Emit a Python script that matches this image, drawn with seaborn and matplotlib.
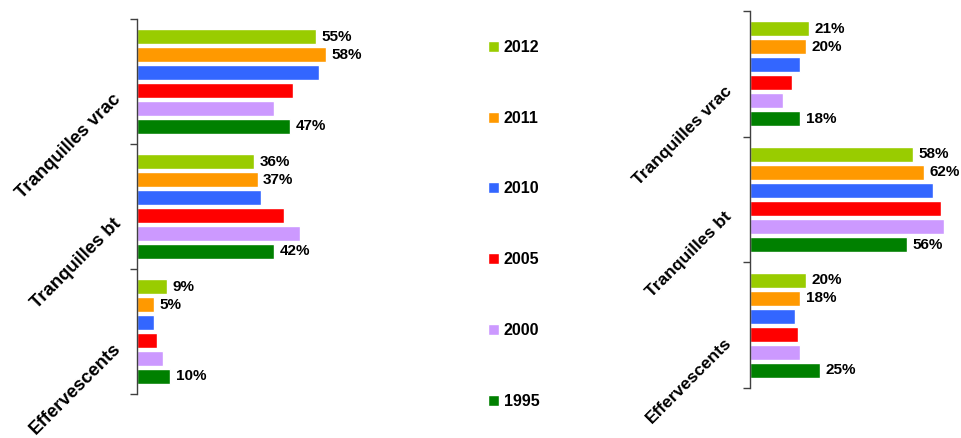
import pandas as pd
import seaborn as sns
import matplotlib.pyplot as plt
from matplotlib.transforms import ScaledTranslation

categories = ["Tranquilles vrac", "Tranquilles bt", "Effervescents"]
years = ["2012", "2011", "2010", "2005", "2000", "1995"]
colors = ["#99CC00", "#FF9900", "#3366FF", "#FF0000", "#CC99FF", "#008000"]

# values per year, in category order (vrac, bt, effervescents)
left_values = {
    "2012": [55, 36, 9],
    "2011": [58, 37, 5],
    "2010": [56, 38, 5],
    "2005": [48, 45, 6],
    "2000": [42, 50, 8],
    "1995": [47, 42, 10],
}
right_values = {
    "2012": [21, 58, 20],
    "2011": [20, 62, 18],
    "2010": [18, 65, 16],
    "2005": [15, 68, 17],
    "2000": [12, 69, 18],
    "1995": [18, 56, 25],
}
labelled_years = ["2012", "2011", "1995"]


def to_frame(values):
    rows = []
    for y in years:
        for c, v in zip(categories, values[y]):
            rows.append({"categorie": c, "annee": y, "valeur": v})
    return pd.DataFrame(rows)


sns.set_style("white")
plt.rcParams['font.family'] = ['Liberation Sans', 'DejaVu Sans']
plt.rcParams['font.weight'] = 'bold'
plt.rcParams['text.color'] = 'black'
plt.rcParams['ytick.color'] = '#404040'
plt.rcParams['ytick.labelcolor'] = 'black'

fig = plt.figure(figsize=(9.62, 4.38), dpi=100)
W, H = 962, 438

ax_l = fig.add_axes([137.5 / W, 1 - 394 / H, 300 / W, 375 / H])
ax_r = fig.add_axes([749.7 / W, 1 - 388 / H, 205 / W, 377 / H])

# axes, data, x max, category label size, label shift (px)
panels = [(ax_l, left_values, 300 / 3.245, 13.3, (-8, -15)),
          (ax_r, right_values, 205 / 2.815, 12.5, (-9, -15))]

for ax, values, xmax, lab_size, shift in panels:
    df = to_frame(values)
    sns.barplot(data=df, y="categorie", x="valeur", hue="annee",
                hue_order=years, order=categories, palette=colors,
                width=0.86, gap=0.17, orient="h", ax=ax, saturation=1)
    for i, y in enumerate(years):
        if y in labelled_years:
            ax.bar_label(ax.containers[i], labels=[f"{v}%" for v in values[y]],
                         padding=4, fontsize=11, fontweight="bold", color="black")
    ax.set_xlim(0, xmax)
    ax.set_ylim(2.5, -0.5)
    ax.set_xlabel("")
    ax.set_ylabel("")
    ax.set_xticks([])
    ax.set_yticks([-0.5, 0.5, 1.5, 2.5])
    ax.set_yticklabels([])
    ax.set_yticks([0, 1, 2], minor=True)
    ax.set_yticklabels(categories, minor=True, rotation=45, ha="right",
                       va="center", rotation_mode="anchor", fontsize=lab_size,
                       fontweight="bold")
    ax.tick_params(axis="y", which="major", direction="out", length=5,
                   width=1, left=True)
    ax.tick_params(axis="y", which="minor", length=0, pad=8)
    offset = ScaledTranslation(shift[0] / 100, shift[1] / 100, fig.dpi_scale_trans)
    for lab in ax.get_yticklabels(minor=True):
        lab.set_transform(lab.get_transform() + offset)
    for s in ["top", "right", "bottom"]:
        ax.spines[s].set_visible(False)
    ax.spines["left"].set_color("#404040")
    ax.spines["left"].set_linewidth(1)
    handles, labels = ax.get_legend_handles_labels()
    ax.get_legend().remove()

fig.legend(handles, labels, loc="upper left", bbox_to_anchor=(480 / W, 1 - 32 / H),
           frameon=False, handlelength=0.7, handleheight=0.7,
           handletextpad=0.3, labelspacing=3.49, borderpad=0,
           prop={"weight": "bold", "size": 11.5})

fig.savefig("out.png", dpi=100)
